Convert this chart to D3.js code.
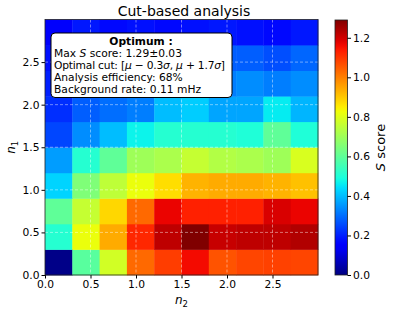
<!DOCTYPE html>
<html><head><meta charset="utf-8">
<script src="https://cdn.jsdelivr.net/npm/d3@7/dist/d3.min.js"></script>
<style>body{margin:0;background:#fff;}svg{display:block;font-family:"DejaVu Sans",sans-serif;}</style>
</head><body><svg id="c" width="393" height="313"></svg>
<script>
// bin edges
const n2Edges = [0.0,0.3,0.6,0.9,1.2,1.5,1.8,2.1,2.4,2.7,3.0];
const n1Edges = [0.0,0.3,0.6,0.9,1.2,1.5,1.8,2.1,2.4,2.7,3.0];
// S score, rows from n1 = 0 upwards, columns along n2
const row0 = [0.01,0.59,0.78,1.03,1.09,1.16,1.06,1.08,1.085,1.08];
const row1 = [0.51,0.82,0.94,1.12,1.22,1.29,1.21,1.22,1.22,1.235];
const row2 = [0.60,0.76,0.88,1.03,1.17,1.13,1.13,1.13,1.19,1.17];
const row3 = [0.43,0.65,0.75,0.82,0.87,0.93,0.94,0.94,0.93,0.91];
const row4 = [0.36,0.51,0.60,0.70,0.72,0.76,0.73,0.72,0.70,0.79];
const row5 = [0.25,0.34,0.40,0.47,0.51,0.51,0.51,0.50,0.60,0.50];
const row6 = [0.22,0.28,0.30,0.32,0.40,0.42,0.37,0.37,0.46,0.39];
const row7 = [0.20,0.24,0.26,0.28,0.30,0.32,0.32,0.34,0.32,0.34];
const row8 = [0.18,0.22,0.24,0.25,0.26,0.27,0.28,0.28,0.26,0.29];
const row9 = [0.14,0.19,0.17,0.18,0.17,0.18,0.19,0.18,0.17,0.19];
const sScore = [row0,row1,row2,row3,row4,row5,row6,row7,row8,row9];
const xTicks = [0.0,0.5,1.0,1.5,2.0,2.5];
const yTicks = [0.0,0.5,1.0,1.5,2.0,2.5];
const cbTicks = [0.0,0.2,0.4,0.6,0.8,1.0,1.2];
const vmax = 1.29;

function seg(pts, t){
  for(let i=1;i<pts.length;i++){
    if(t<=pts[i][0]){const a=pts[i-1],b=pts[i];return a[1]+(b[1]-a[1])*(t-a[0])/(b[0]-a[0]);}
  }
  return pts[pts.length-1][1];
}
function jet(t){
  t=Math.max(0,Math.min(1,t));
  const r=seg([[0,0],[0.35,0],[0.66,1],[0.89,1],[1,0.5]],t);
  const g=seg([[0,0],[0.125,0],[0.375,1],[0.64,1],[0.91,0],[1,0]],t);
  const b=seg([[0,0.5],[0.11,1],[0.34,1],[0.65,0],[1,0]],t);
  return d3.rgb(r*255,g*255,b*255).toString();
}

const svg=d3.select("#c");
const L=45,R=318,T=19.5,B=275;
const TF=10.7;
const x=d3.scaleLinear().domain([0,3]).range([L,R]);
const y=d3.scaleLinear().domain([0,3]).range([B,T]);
const color=d3.scaleSequential(t=>jet(t)).domain([0,vmax]);

const cells=[];
sScore.forEach((row,i)=>row.forEach((v,j)=>cells.push({i,j,v})));
svg.append("g").selectAll("rect").data(cells).join("rect")
  .attr("x",d=>x(n2Edges[d.j])).attr("y",d=>y(n1Edges[d.i+1]))
  .attr("width",d=>x(n2Edges[d.j+1])-x(n2Edges[d.j])+0.4)
  .attr("height",d=>y(n1Edges[d.i])-y(n1Edges[d.i+1])+0.4)
  .attr("fill",d=>color(d.v));

// grid
const grid=svg.append("g").attr("stroke","#fff").attr("stroke-opacity",0.55).attr("stroke-dasharray","3,2").attr("stroke-width",0.8);
xTicks.slice(1).forEach(t=>grid.append("line").attr("x1",x(t)).attr("x2",x(t)).attr("y1",T).attr("y2",B));
yTicks.slice(1).forEach(t=>grid.append("line").attr("y1",y(t)).attr("y2",y(t)).attr("x1",L).attr("x2",R));

// axes
const xa=svg.append("g").attr("transform",`translate(0,${B})`)
  .call(d3.axisBottom(x).tickValues(xTicks).tickFormat(d3.format(".1f")).tickSize(3.5).tickPadding(2));
const ya=svg.append("g").attr("transform",`translate(${L},0)`)
  .call(d3.axisLeft(y).tickValues(yTicks).tickFormat(d3.format(".1f")).tickSize(3.5).tickPadding(2));
[xa,ya].forEach(a=>{a.select(".domain").remove();a.selectAll("text").attr("font-size",TF).attr("fill","#000").attr("font-family","DejaVu Sans");a.selectAll("line").attr("stroke","#000");});
svg.append("rect").attr("x",L).attr("y",T).attr("width",R-L).attr("height",B-T).attr("fill","none").attr("stroke","#222").attr("stroke-width",0.8);

// title & labels
svg.append("text").attr("x",184).attr("y",15.5).attr("text-anchor","middle").attr("font-size",14).text("Cut-based analysis");
const xl=svg.append("text").attr("x",(L+R)/2).attr("y",304).attr("text-anchor","middle").attr("font-size",12);
xl.append("tspan").attr("font-style","italic").text("n");
xl.append("tspan").attr("font-size",8.5).attr("dy",2.5).text("2");
const yl=svg.append("text").attr("transform",`translate(15,${(T+B)/2}) rotate(-90)`).attr("text-anchor","middle").attr("font-size",12);
yl.append("tspan").attr("font-style","italic").text("n");
yl.append("tspan").attr("font-size",8.5).attr("dy",2.5).text("1");

// colorbar
const CL=335,CR=347.5,CT=20,CB=275;
const defs=svg.append("defs");
const grad=defs.append("linearGradient").attr("id","jet").attr("x1",0).attr("y1",1).attr("x2",0).attr("y2",0);
d3.range(0,1.0001,0.02).forEach(t=>grad.append("stop").attr("offset",t).attr("stop-color",jet(t)));
svg.append("rect").attr("x",CL).attr("y",CT).attr("width",CR-CL).attr("height",CB-CT).attr("fill","url(#jet)").attr("stroke","#222").attr("stroke-width",0.8);
const cy=d3.scaleLinear().domain([0,vmax]).range([CB,CT]);
const ca=svg.append("g").attr("transform",`translate(${CR},0)`)
  .call(d3.axisRight(cy).tickValues(cbTicks).tickFormat(d3.format(".1f")).tickSize(3.5).tickPadding(2));
ca.select(".domain").remove();
ca.selectAll("text").attr("font-size",TF).attr("fill","#000").attr("font-family","DejaVu Sans");
ca.selectAll("line").attr("stroke","#000");
const cl=svg.append("text").attr("transform",`translate(385,${(CT+CB)/2}) rotate(-90)`).attr("text-anchor","middle").attr("font-size",13);
cl.append("tspan").attr("font-style","italic").text("S");
cl.append("tspan").text(" score");

// annotation box
const bx=svg.append("g");
bx.append("rect").attr("x",51).attr("y",33).attr("width",181).attr("height",64.5).attr("rx",4).attr("fill","#fff").attr("stroke","#000").attr("stroke-width",1);
bx.append("text").attr("x",141).attr("y",44.5).attr("text-anchor","middle").attr("font-size",10.7).attr("font-weight","bold").text("Optimum :");
const fs=10.7;
const l1=bx.append("text").attr("x",54).attr("y",56.5).attr("font-size",fs);
l1.append("tspan").text("Max ");l1.append("tspan").attr("font-style","italic").text("S");l1.append("tspan").text(" score: 1.29±0.03");
const l2=bx.append("text").attr("x",54).attr("y",68.8).attr("font-size",fs).attr("textLength",171).attr("lengthAdjust","spacing");
l2.append("tspan").text("Optimal cut: [");
l2.append("tspan").attr("font-style","italic").text("μ");
l2.append("tspan").text(" − 0.3");
l2.append("tspan").attr("font-style","italic").text("σ");
l2.append("tspan").text(", ");
l2.append("tspan").attr("font-style","italic").text("μ");
l2.append("tspan").text(" + 1.7");
l2.append("tspan").attr("font-style","italic").text("σ");
l2.append("tspan").text("]");
bx.append("text").attr("x",54).attr("y",81).attr("font-size",fs).text("Analysis efficiency: 68%");
bx.append("text").attr("x",54).attr("y",93).attr("font-size",fs).text("Background rate: 0.11 mHz");
</script></body></html>
